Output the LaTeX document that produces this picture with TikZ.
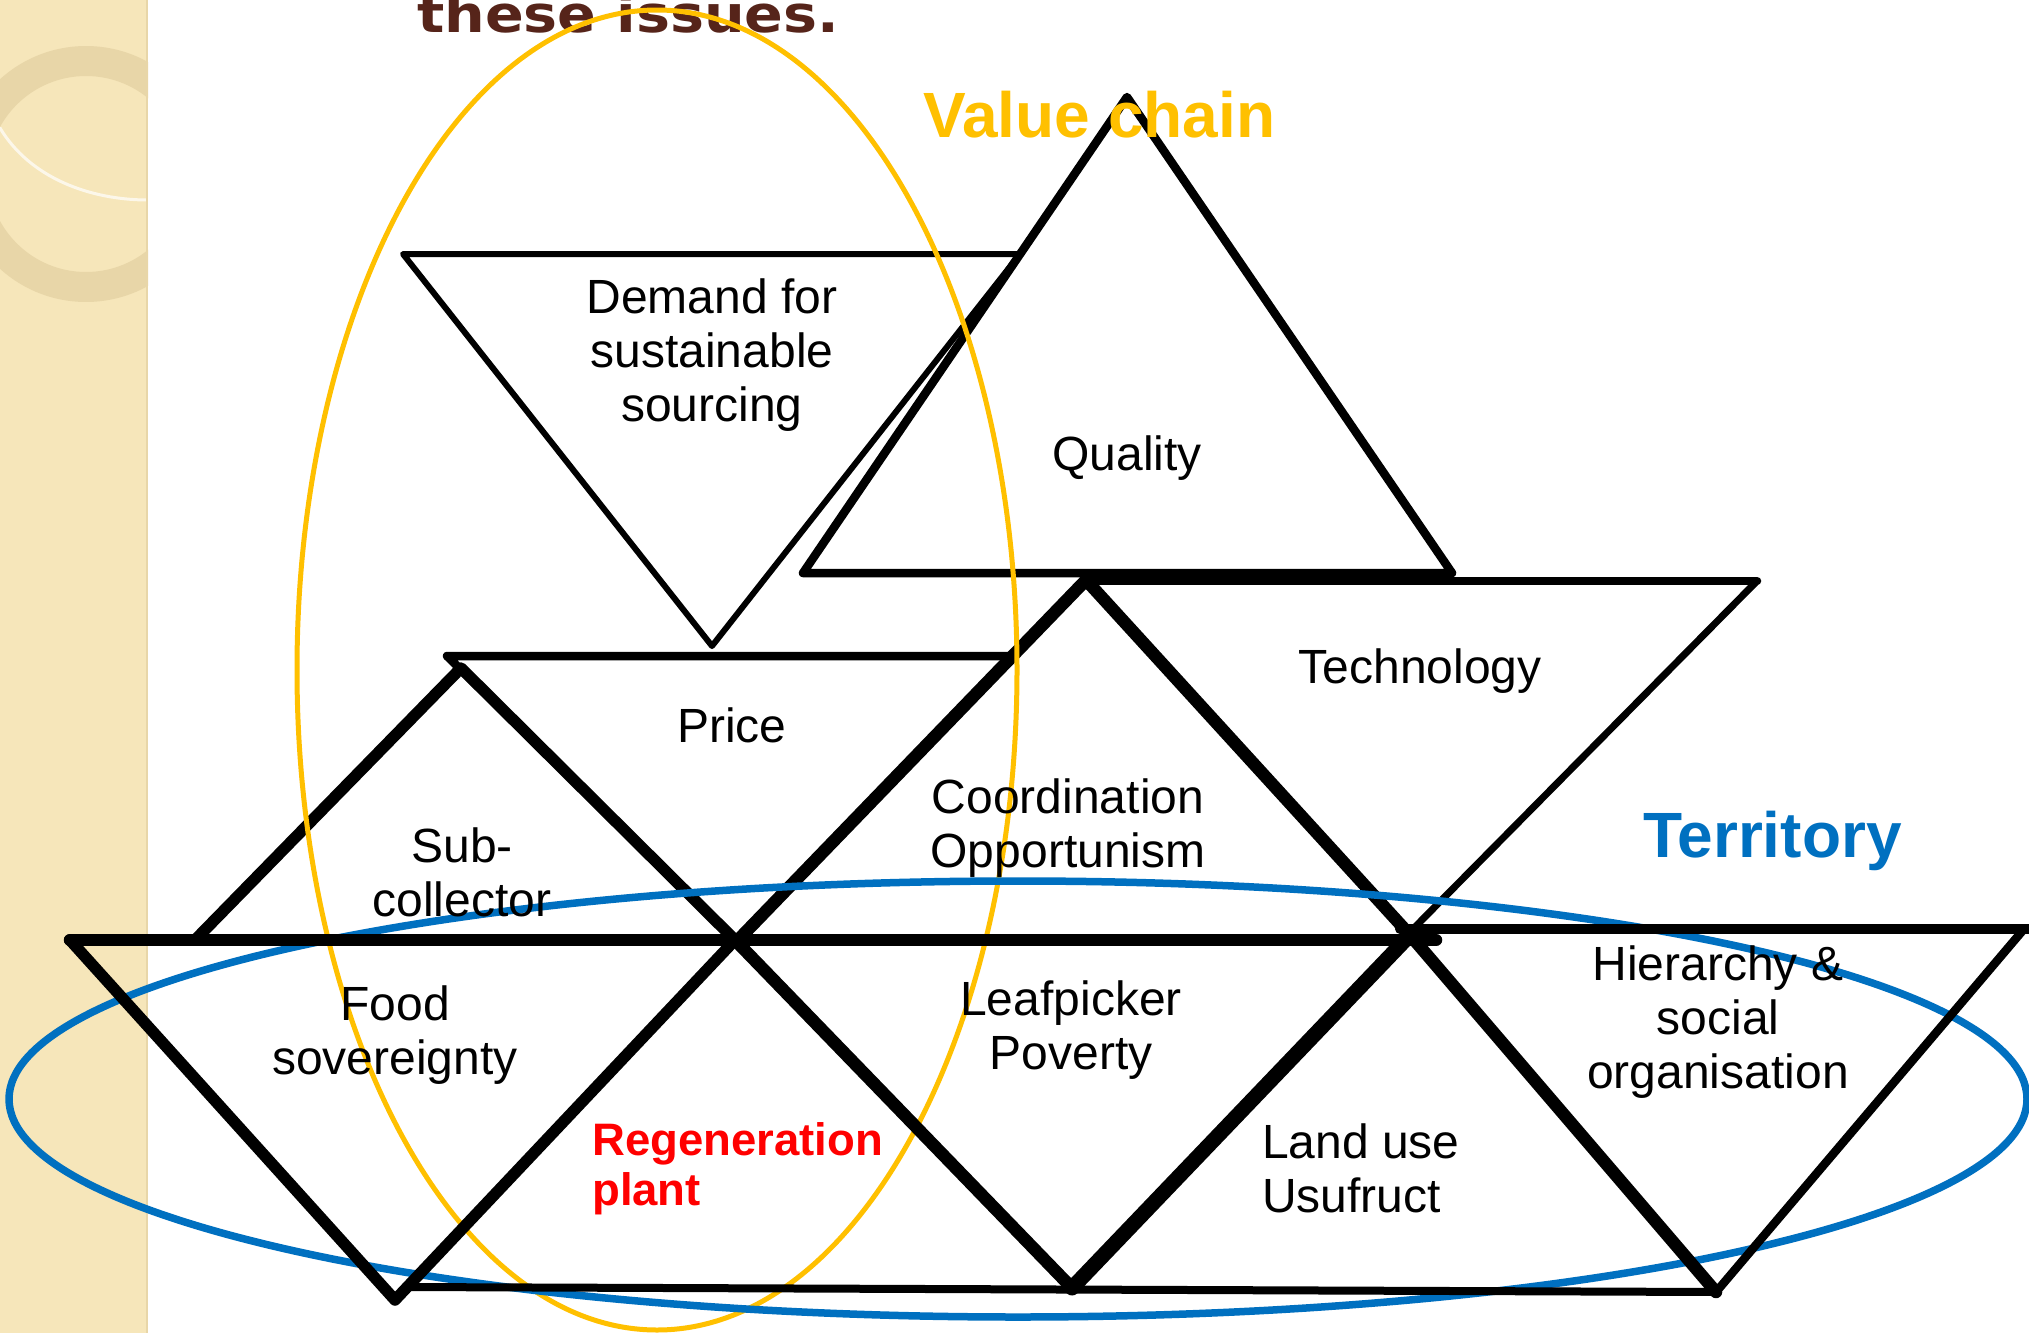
\documentclass[tikz,border=0pt]{standalone}
\usepackage{fontspec}
\setmainfont{Liberation Sans}
\newfontfamily\titlefont{DejaVu Sans}
\definecolor{stripbeige}{HTML}{F6E6BA}
\definecolor{ringbeige}{HTML}{E8D6A8}
\definecolor{titlebrown}{HTML}{56241A}
\definecolor{chaingold}{HTML}{FFC000}
\definecolor{terrblue}{HTML}{0070C0}
\newcommand\lbl{\fontsize{48}{54}\selectfont}
\newcommand\biglbl{\fontsize{64}{72}\selectfont\bfseries}

\begin{document}
\begin{tikzpicture}[x=1pt,y=-1pt,line join=round,line cap=round,
  edge/.style={draw=black,line width=#1},
  txt/.style={anchor=base,font=\lbl,inner sep=0pt}]
\clip (0,0) rectangle (2029,1333);
\fill[white] (0,0) rectangle (2029,1333);
% left strip with ring
\begin{scope}
\clip (0,0) rectangle (148,1333);
\fill[stripbeige] (0,0) rectangle (148,1333);
\draw[ringbeige,line width=30pt] (86,174) circle[radius=113pt];
\draw[white,opacity=0.7,line width=3pt] (0,128) .. controls (30,178) and (90,200) .. (148,200);
\end{scope}
\draw[color=ringbeige,line width=2pt] (147,0) -- (147,1333);
% title, cut at the top
\node[anchor=base west,inner sep=0pt,text=titlebrown,font=\titlefont\fontsize{51}{60}\selectfont\bfseries,xscale=1.12,transform shape] (title) at (417,32) {these issues.};
% corner points
\coordinate (dmL) at (403,254);
\coordinate (dmR) at (1020,254);
\coordinate (dmB) at (712,646);
\coordinate (quL) at (803,573);
\coordinate (quR) at (1452,573);
\coordinate (quT) at (1127,97);
\coordinate (teL) at (1086,581);
\coordinate (teR) at (1757,581);
\coordinate (teB) at (1414,928);
\coordinate (prL) at (447,656);
\coordinate (prR) at (1011,656);
\coordinate (suT) at (461,668);
\coordinate (suL) at (195,940);
\coordinate (coT) at (1086,580);
\coordinate (coL) at (738,940);
\coordinate (jA) at (735,940);
\coordinate (jB) at (1410,935);
\coordinate (foL) at (70,940);
\coordinate (foB) at (395,1300);
\coordinate (lfB) at (1072,1288);
\coordinate (hiB) at (1716,1292);
\coordinate (hiL) at (1400,929);
\coordinate (hiR) at (2024,929);
\coordinate (mainR) at (1436,940);
\coordinate (botL) at (405,1287);
% upper triangles
\draw[edge=6] (dmL) -- (dmR) -- (dmB) -- cycle;
\draw[edge=8.5] (quL) -- (quR) -- (quT) -- cycle;
\draw[edge=8.5] (teL) -- (teR);
\draw[edge=7] (teR) -- (teB);
\draw[edge=8.5] (jA) -- (prL) -- (prR);
\draw[edge=11.5] (suL) -- (suT) -- (jA);
\draw[edge=12.5] (coL) -- (coT) -- (jB);
% ellipses
\draw[chaingold,line width=5pt] (657,670) ellipse[x radius=360pt,y radius=660pt];
\draw[terrblue,line width=7.5pt] (1018,1099) ellipse[x radius=1009pt,y radius=218pt];
% lower triangles
\draw[edge=12.5] (foL) -- (mainR);
\draw[edge=10] (hiL) -- (2040,929);
\draw[edge=8] (botL) -- (hiB);
\draw[edge=11.5] (foL) -- (foB) -- (jA);
\draw[edge=12.5] (jA) -- (lfB);
\draw[edge=15] (lfB) -- (jB);
\draw[edge=12.5] (jB) -- (hiB);
\draw[edge=8.5] (hiB) -- (hiR);
% labels
\node[txt] (demand) at (712,313) {\begin{tabular}[t]{@{}c@{}}Demand for\\sustainable\\sourcing\end{tabular}};
\node[txt] (quality) at (1127,470) {Quality};
\node[txt] (technology) at (1420,683) {Technology};
\node[txt] (price) at (732,742) {Price};
\node[txt] (subcollector) at (462,862) {\begin{tabular}[t]{@{}c@{}}Sub-\\collector\end{tabular}};
\node[txt] (coordination) at (1068,813) {\begin{tabular}[t]{@{}c@{}}Coordination\\Opportunism\end{tabular}};
\node[txt] (food) at (395,1020) {\begin{tabular}[t]{@{}c@{}}Food\\sovereignty\end{tabular}};
\node[txt] (leafpicker) at (1071,1015) {\begin{tabular}[t]{@{}c@{}}Leafpicker\\Poverty\end{tabular}};
\node[txt,anchor=base west] (landuse) at (1262,1158) {\begin{tabular}[t]{@{}l@{}}Land use\\Usufruct\end{tabular}};
\node[txt] (hierarchy) at (1718,980) {\begin{tabular}[t]{@{}c@{}}Hierarchy \&\\social\\organisation\end{tabular}};
\node[anchor=base west,inner sep=0pt,text=red,font=\fontsize{45.5}{50}\selectfont\bfseries] (regeneration) at (592,1155) {\begin{tabular}[t]{@{}l@{}}Regeneration\\plant\end{tabular}};
\node[anchor=base west,inner sep=0pt,text=chaingold,font=\biglbl] (valuechain) at (923,137) {Value chain};
\node[anchor=base west,inner sep=0pt,text=terrblue,font=\biglbl] (territory) at (1643,857) {Territory};
\end{tikzpicture}
\end{document}
